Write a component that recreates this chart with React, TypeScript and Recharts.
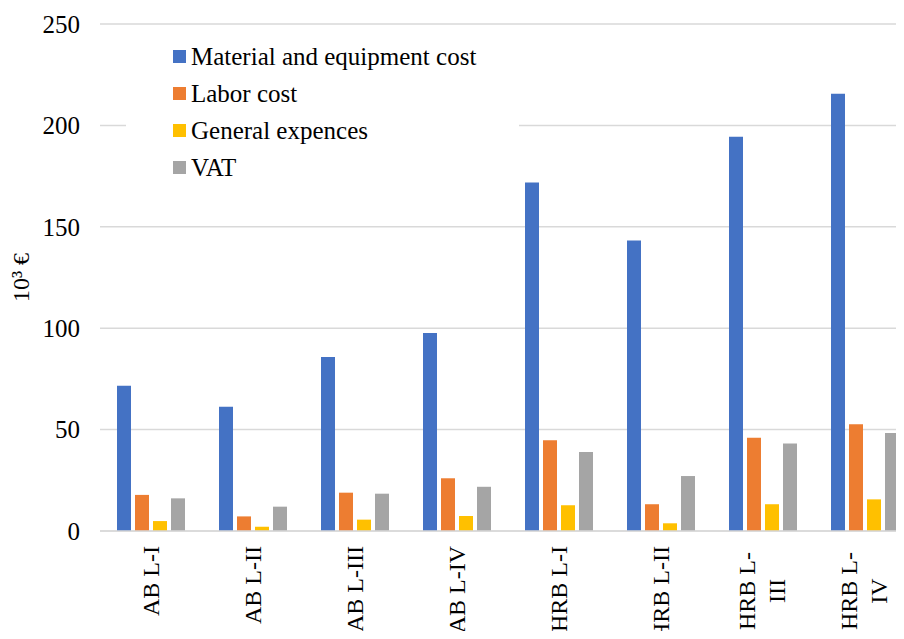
import { BarChart, Bar, XAxis, YAxis, CartesianGrid, Legend } from 'recharts'

const categories = ['AB L-I', 'AB L-II', 'AB L-III', 'AB L-IV', 'HRB L-I', 'HRB L-II', 'HRB L-III', 'HRB L-IV']
// how the category names break into lines under the axis
const tickLines = [['AB L-I'], ['AB L-II'], ['AB L-III'], ['AB L-IV'], ['HRB L-I'], ['HRB L-II'], ['HRB L-', 'III'], ['HRB L-', 'IV']]
const material = [71.6, 61.3, 85.8, 97.6, 171.9, 143.3, 194.4, 215.6]
const labor = [17.8, 7.2, 18.9, 26.0, 44.7, 13.2, 46.0, 52.6]
const general = [4.9, 2.1, 5.6, 7.4, 12.7, 3.8, 13.2, 15.6]
const vat = [16.1, 12.0, 18.4, 21.8, 39.0, 27.1, 43.1, 48.3]
const yTicks = [0, 50, 100, 150, 200, 250]

const series = [
	{ key: 'material', name: 'Material and equipment cost', color: '#4472C4' },
	{ key: 'labor', name: 'Labor cost', color: '#ED7D31' },
	{ key: 'general', name: 'General expences', color: '#FFC000' },
	{ key: 'vat', name: 'VAT', color: '#A5A5A5' },
]

const data = categories.map((c, i) => ({
	name: c,
	material: material[i],
	labor: labor[i],
	general: general[i],
	vat: vat[i],
}))

const FONT = "'Liberation Serif', 'Times New Roman', serif"

const XTick = (props: any) => {
	const { x, y, index } = props
	const lines = tickLines[index] || [props.payload.value]
	if (lines.length > 1) {
		const cy = y + 45
		return (
			<g>
				{lines.map((l, i) => {
					const lx = x + (i === 0 ? -16 : 14)
					return (
						<text
							key={i}
							x={lx}
							y={cy}
							dy='0.35em'
							transform={`rotate(-90, ${lx}, ${cy})`}
							textAnchor='middle'
							fontSize={24}
							fontFamily={FONT}
							fill='#000'
						>
							{l}
						</text>
					)
				})}
			</g>
		)
	}
	return (
		<text
			x={x}
			y={y}
			dy='0.35em'
			transform={`rotate(-90, ${x}, ${y})`}
			textAnchor='end'
			fontSize={24}
			fontFamily={FONT}
			fill='#000'
		>
			{lines[0]}
		</text>
	)
}

const YTick = (props: any) => {
	const { x, y, payload } = props
	return (
		<text x={x} y={y} dy='0.35em' textAnchor='end' fontSize={25} fontFamily={FONT} fill='#000'>
			{payload.value}
		</text>
	)
}

const YLabel = (props: any) => {
	const { viewBox } = props
	const cx = 21
	const cy = viewBox.y + viewBox.height / 2
	return (
		<text
			x={cx}
			y={cy}
			dy='0.35em'
			transform={`rotate(-90, ${cx}, ${cy})`}
			textAnchor='middle'
			fontSize={24}
			fontFamily={FONT}
			fill='#000'
		>
			10³ €
		</text>
	)
}

const LegendBox = () => (
	<div style={{ paddingTop: 8, paddingLeft: 47, fontFamily: FONT, textAlign: 'left' }}>
		{series.map((s) => (
			<div key={s.key} style={{ display: 'flex', alignItems: 'center', height: 37 }}>
				<span style={{ width: 13, height: 13, background: s.color, marginRight: 5, flex: 'none' }} />
				<span style={{ fontFamily: FONT, fontSize: 25, color: '#000', whiteSpace: 'nowrap' }}>{s.name}</span>
			</div>
		))}
	</div>
)

export default function App() {
	return (
		<div style={{ margin: -8, width: 904, height: 639, overflow: 'hidden', background: '#fff', fontFamily: FONT }}>
			<BarChart
				width={920}
				height={639}
				data={data}
				margin={{ top: 24, right: 4, left: 0, bottom: 0 }}
				barSize={14}
				barGap={4}
			>
				<CartesianGrid vertical={false} stroke='#d9d9d9' strokeWidth={1.5} />
				<XAxis
					dataKey='name'
					height={108}
					axisLine={{ stroke: '#d9d9d9', strokeWidth: 1.5 }}
					tickLine={false}
					tickSize={0}
					tickMargin={15}
					interval={0}
					tick={<XTick />}
				/>
				<YAxis
					width={100}
					domain={[0, 250]}
					ticks={yTicks}
					axisLine={false}
					tickLine={false}
					tickSize={0}
					tickMargin={20}
					tick={<YTick />}
					label={YLabel}
				/>
				<Legend
					layout='vertical'
					align='center'
					verticalAlign='middle'
					content={<LegendBox />}
					wrapperStyle={{ position: 'absolute', left: 126, top: 30, width: 393, height: 168, background: '#fff' }}
				/>
				{series.map((s) => (
					<Bar key={s.key} dataKey={s.key} name={s.name} fill={s.color} isAnimationActive={false} />
				))}
			</BarChart>
		</div>
	)
}
